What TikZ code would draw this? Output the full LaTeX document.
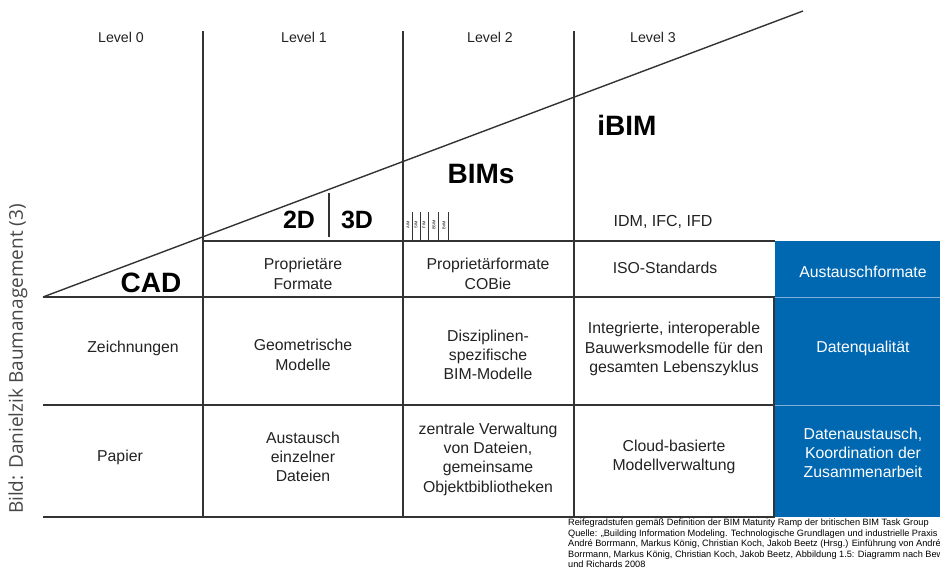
\documentclass[tikz,border=0pt]{standalone}
\usepackage{fontspec}
\setmainfont{Liberation Sans}
\newfontfamily\creditfont{Open Sans}
\usetikzlibrary{positioning}
\definecolor{bl}{HTML}{0067B1}
\definecolor{ln}{HTML}{333333}
\definecolor{tx}{HTML}{222222}
\definecolor{sep}{HTML}{7FAEDC}

\begin{document}
\begin{tikzpicture}[x=1pt, y=-1pt,
    cell/.style={align=center, inner sep=0pt, text=tx, font=\fontsize{15.8}{19.3}\selectfont},
    wcell/.style={cell, text=white},
    lvl/.style={inner sep=0pt, text=tx, font=\fontsize{14.2}{15}\selectfont},
    big/.style={inner sep=0pt, text=black, font=\fontsize{28}{30}\selectfont\bfseries},
    mid/.style={inner sep=0pt, text=black, font=\fontsize{25}{27}\selectfont\bfseries},
    tiny/.style={inner sep=0pt, rotate=90, font=\fontsize{4}{4}\selectfont},
    grid/.style={ln, line width=1.6pt}]
    \useasboundingbox (0,0) rectangle (940,577);
    \clip (0,0) rectangle (940,577);

    % Blue column
    \fill[bl] (775,241) rectangle (940,517);
    \draw[sep, line width=1pt] (775,298) -- (940,298);
    \draw[sep, line width=1pt] (775,405) -- (940,405);

    % Grid
    \foreach \x in {203, 403, 574} {
        \draw[grid] (\x,31) -- (\x,517);
    }
    \draw[grid] (203,241) -- (775,241);
    \foreach \y in {297, 405, 517} {
        \draw[grid] (43,\y) -- (775,\y);
    }
    \draw[grid] (774,297) -- (774,517);

    % Ramp
    \draw[ln, line width=1.4pt] (43,297) -- (803,11);
    \draw[ln, line width=1.8pt] (329,193) -- (329,237);

    % Levels
    \node[lvl] (lv0) at (121,37) {Level 0};
    \node[lvl] (lv1) at (304,37) {Level 1};
    \node[lvl] (lv2) at (490,37) {Level 2};
    \node[lvl] (lv3) at (653,37) {Level 3};

    % Ramp labels
    \node[big] (cad) at (151,283) {CAD};
    \node[mid] (twod) at (299,220) {2D};
    \node[mid] (threed) at (357,220) {3D};
    \node[big] (bims) at (481,174) {BIMs};
    \node[big] (ibim) at (627,125) {iBIM};
    \node[cell, font=\fontsize{16}{17}\selectfont] (idm) at (663,222) {IDM, IFC, IFD};
    \foreach \x/\t in {408/AIM, 416/SIM, 424/FIM, 434/BSIM, 444/BrIM} {
        \node[tiny] (t\t) at (\x,225) {\t};
        \draw[ln, line width=0.4pt] (\x+4,212) -- (\x+4,241);
    }

    % Row 1
    \node[cell] (fmt1) at (303,274) {Proprietäre\\Formate};
    \node[cell] (fmt2) at (488,274) {Proprietärformate\\COBie};
    \node[cell] (fmt3) at (665,268) {ISO-Standards};
    \node[wcell] (fmt4) at (863,272) {Austauschformate};

    % Row 2
    \node[cell] (mod0) at (133,348) {Zeichnungen};
    \node[cell] (mod1) at (303,355) {Geometrische\\Modelle};
    \node[cell] (mod2) at (488,355) {Disziplinen-\\spezifische\\BIM-Modelle};
    \node[cell] (mod3) at (674,349) {Integrierte, interoperable\\Bauwerksmodelle für den\\gesamten Lebenszyklus};
    \node[wcell] (mod4) at (863,348) {Datenqualität};

    % Row 3
    \node[cell] (ex0) at (120,457) {Papier};
    \node[cell] (ex1) at (303,457) {Austausch\\einzelner\\Dateien};
    \node[cell] (ex2) at (488,459) {zentrale Verwaltung\\von Dateien,\\gemeinsame\\Objektbibliotheken};
    \node[cell] (ex3) at (674,457) {Cloud-basierte\\Modellverwaltung};
    \node[wcell] (ex4) at (863,453) {Datenaustausch,\\Koordination der\\Zusammenarbeit};

    % Source
    \node[anchor=north west, align=left, inner sep=0pt, text=black,
        font=\fontsize{9.2}{10.4}\selectfont] (src) at (568,519)
        {Reifegradstufen gemäß Definition der BIM Maturity Ramp der britischen BIM Task Group\\
         Quelle: „Building Information Modeling. Technologische Grundlagen und industrielle Praxis\\
         André Borrmann, Markus König, Christian Koch, Jakob Beetz (Hrsg.) Einführung von André\\
         Borrmann, Markus König, Christian Koch, Jakob Beetz, Abbildung 1.5: Diagramm nach Bew\\
         und Richards 2008};

    % Credit
    \node[rotate=90, inner sep=0pt, text=black!72, font=\creditfont\fontsize{19}{20}\selectfont]
        (credit) at (18,359) {Bild: Danielzik Baumanagement (3)};
\end{tikzpicture}
\end{document}
